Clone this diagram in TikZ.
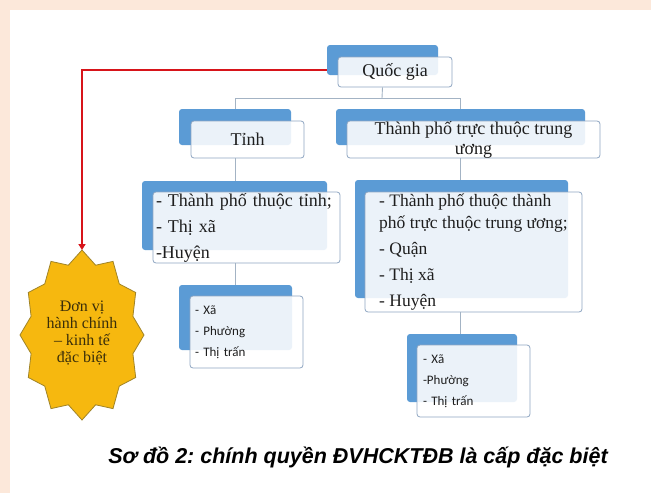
\documentclass[tikz,border=0pt]{standalone}
\usepackage{fontspec}
\setmainfont{Liberation Serif}
\newfontfamily\calfont{Carlito}
\newfontfamily\capfont{Liberation Sans}
\usetikzlibrary{arrows.meta}
\definecolor{sablue}{HTML}{5B9BD5}
\definecolor{boxline}{HTML}{8FA6C2}
\definecolor{connline}{HTML}{A3B3C4}
\definecolor{linkred}{HTML}{D7141A}
\definecolor{starfill}{HTML}{F6B80F}
\definecolor{starline}{HTML}{A08428}
\definecolor{starink}{HTML}{3A2E0A}
\definecolor{peach}{HTML}{FCE8DA}
\definecolor{ink}{HTML}{1E1E1E}
\frenchspacing
\begin{document}
\begin{tikzpicture}[x=1pt, y=-1pt,
    back/.style = {fill=sablue, rounded corners=3pt, inner sep=0pt},
    front/.style = {draw=boxline, line width=0.8pt, fill=white, fill opacity=0.88, text opacity=1,
                    rounded corners=3pt, inner sep=0pt, text=ink},
    big/.style = {font=\fontsize{18}{20}\selectfont},
    small/.style = {font=\calfont\fontsize{13}{21}\selectfont, align=left},
    conn/.style = {draw=connline, line width=0.9pt},
    link/.style = {draw=linkred, line width=2.4pt, -{Triangle[length=6pt,width=7pt]}},
    starshape/.style = {fill=starfill, draw=starline, line width=0.8pt}]
    \fill[peach] (0,0) rectangle (651,493);
    \fill[white] (10,10) rectangle (651,493);
    \useasboundingbox (0,0) rectangle (651,493);

    \node[back, minimum width=111pt, minimum height=30pt] (qgb) at (382.5,60) {};
    \node[front, big, minimum width=114pt, minimum height=30pt] (qg) at (395,72) {Quốc gia};

    \node[back, minimum width=112pt, minimum height=36pt] (tinhb) at (235,127) {};
    \node[front, big, minimum width=113pt, minimum height=37pt] (tinh) at (247.5,139.5) {Tỉnh};

    \node[back, minimum width=249pt, minimum height=36pt] (tptwb) at (460.5,127) {};
    \node[front, big, align=center, minimum width=253pt, minimum height=37pt] (tptw) at (473.5,139.5)
        {Thành phố trực thuộc trung\\ương};

    \node[back, minimum width=185pt, minimum height=69pt] (huyenb) at (234.5,215.5) {};
    \node[front, font=\fontsize{18}{26}\selectfont, align=left, text width=181pt, inner xsep=3pt,
          minimum height=71pt] (huyen) at (246.5,227.5)
        {- Thành phố thuộc tỉnh;\\- Thị xã\\-Huyện};

    \node[back, minimum width=113pt, minimum height=65pt] (xatinhb) at (235.5,317.5) {};
    \node[front, small, text width=103pt, inner xsep=5pt, minimum height=72pt] (xatinh) at (246.5,332)
        {- Xã\\- Phường\\- Thị trấn};

    \node[back, minimum width=213pt, minimum height=118pt] (quanb) at (461.5,239) {};
    \node[front, font=\fontsize{17.5}{22}\selectfont, align=left,
          minimum width=217pt, minimum height=120pt] (quan) at (473.5,252)
        {- Thành phố thuộc thành\\phố trực thuộc trung ương;\\[4pt]- Quận\\[4pt]- Thị xã\\[4pt]- Huyện};

    \node[back, minimum width=110pt, minimum height=68pt] (xatpb) at (462,368) {};
    \node[front, small, text width=101pt, inner xsep=6pt, minimum height=72pt] (xatp) at (473.5,381)
        {- Xã\\-Phường\\- Thị trấn};

    \coordinate (qgsplit) at (382,98);
    \draw[conn] (qgb.center |- qg.south) -- (qgsplit);
    \draw[conn] (qgsplit) -| (tinhb.north);
    \draw[conn] (qgsplit) -| (tptwb.north);
    \draw[conn] (tinhb.center |- tinh.south) -- (tinhb.center |- huyenb.north);
    \draw[conn] (tinhb.center |- huyen.south) -- (tinhb.center |- xatinhb.north);
    \draw[conn] (tptwb.center |- tptw.south) -- (tptwb.center |- quanb.north);
    \draw[conn] (tptwb.center |- quan.south) -- (tptwb.center |- xatpb.north);

    \filldraw[starshape] (82,250) \foreach \k in {1,...,23} {
        -- ({82+ifthenelse(isodd(\k),0.85,1)*62*cos(90+15*\k)}, {335-ifthenelse(isodd(\k),0.85,1)*85*sin(90+15*\k)})
    } -- cycle;
    \coordinate (startop) at (82,250);
    \node[font=\fontsize{16}{17}\selectfont, align=center, text=starink] (dvhc) at (82,333)
        {Đơn vị\\hành chính\\– kinh tế\\đặc biệt};

    \coordinate (redbend) at (82,70);
    \draw[link] (redbend -| qgb.west) -- (redbend) -- (startop);

    \node[font=\capfont\bfseries\itshape\fontsize{21.5}{24}\selectfont, text=black] (caption) at (358,457)
        {Sơ đồ 2: chính quyền ĐVHCKTĐB là cấp đặc biệt};
\end{tikzpicture}
\end{document}
